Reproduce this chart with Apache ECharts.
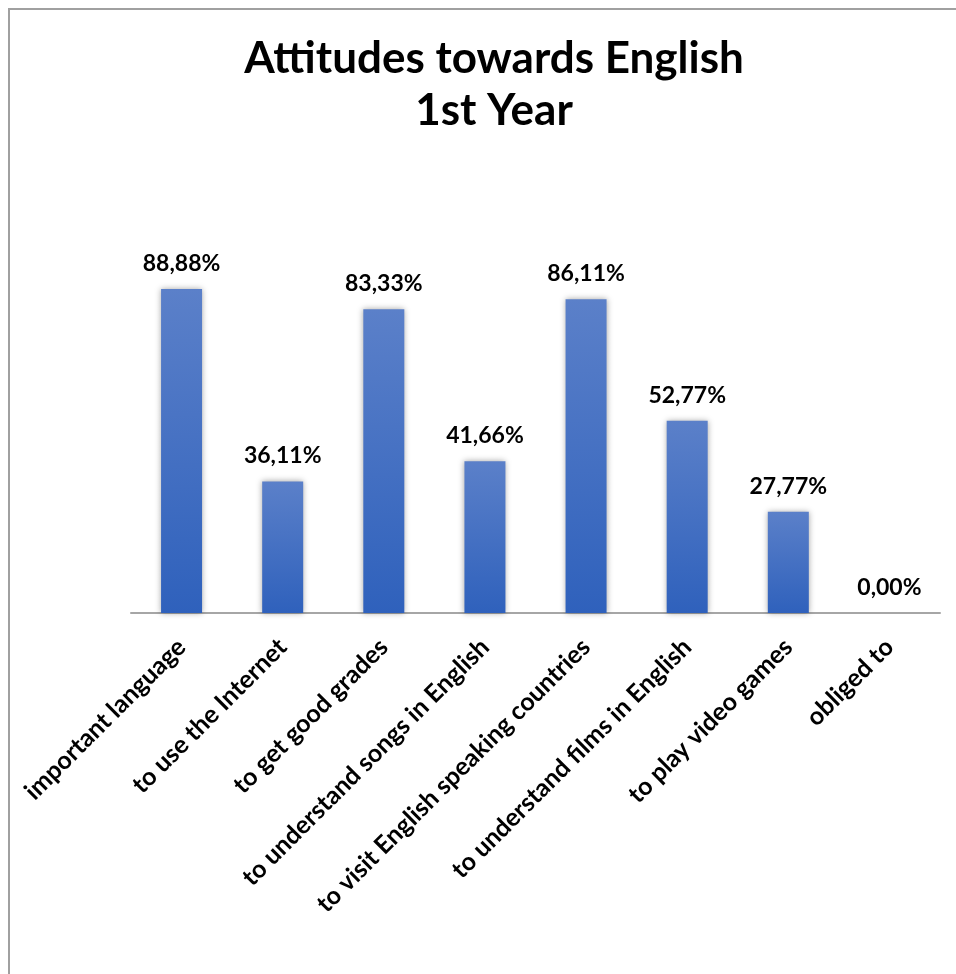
<!DOCTYPE html>
<html>
<head>
<meta charset="utf-8">
<script src="https://cdn.jsdelivr.net/npm/echarts@6/dist/echarts.min.js"></script>
<style>
  html, body { margin: 0; padding: 0; background: #fff; }
  #main { width: 956px; height: 974px; }
</style>
</head>
<body>
<div id="main"></div>
<script>
var categories = ['important language', 'to use the Internet', 'to get good grades',
    'to understand songs in English', 'to visit English speaking countries',
    'to understand films in English', 'to play video games', 'obliged to'];
var values = [88.88, 36.11, 83.33, 41.66, 86.11, 52.77, 27.77, 0];

var dom = document.getElementById('main');
var myChart = echarts.init(dom);
var font = 'Lato, "Noto Sans", sans-serif';

var option = {
    backgroundColor: '#fff',
    title: {
        text: 'Attitudes towards English\n1st Year',
        left: 489,
        top: 28,
        textAlign: 'center',
        textStyle: {
            fontFamily: font,
            fontWeight: 'bold',
            fontSize: 44,
            lineHeight: 52,
            color: '#000'
        }
    },
    graphic: [{
        type: 'rect',
        shape: { x: 9, y: 9, width: 1000, height: 1000 },
        style: { fill: 'none', stroke: '#a0a0a0', lineWidth: 2 },
        silent: true
    }],
    grid: {
        left: 131,
        right: 16,
        top: 248.5,
        bottom: 361
    },
    xAxis: {
        type: 'category',
        data: categories,
        axisLine: { lineStyle: { color: '#a6a6a6', width: 2 } },
        axisTick: { show: false },
        axisLabel: {
            rotate: 45,
            interval: 0,
            margin: 30,
            fontFamily: font,
            fontWeight: 'bold',
            fontSize: 25,
            color: '#000'
        }
    },
    yAxis: {
        type: 'value',
        min: 0,
        max: 100,
        show: false,
        splitLine: { show: false }
    },
    series: [{
        type: 'bar',
        data: values,
        barWidth: 41,
        itemStyle: {
            color: new echarts.graphic.LinearGradient(0, 0, 0, 1, [
                { offset: 0, color: '#5b80c9' },
                { offset: 1, color: '#2f61bc' }
            ]),
            shadowBlur: 6,
            shadowColor: 'rgba(0,0,0,0.35)'
        },
        label: {
            show: true,
            position: 'top',
            distance: 14,
            fontFamily: font,
            fontWeight: 'bold',
            fontSize: 23,
            color: '#000',
            formatter: function (p) {
                return p.value.toFixed(2).replace('.', ',') + '%';
            }
        }
    }]
};
myChart.setOption(option);
</script>
</body>
</html>
